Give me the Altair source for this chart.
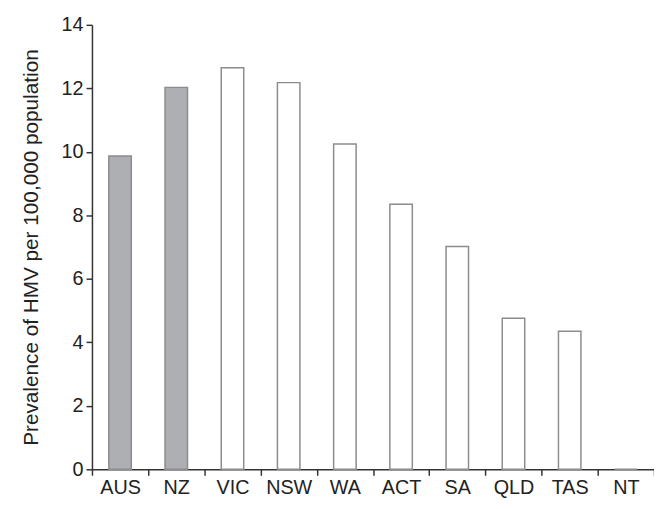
import altair as alt
import pandas as pd

regions = ["AUS", "NZ", "VIC", "NSW", "WA", "ACT", "SA", "QLD", "TAS", "NT"]
prevalence = [9.87, 12.03, 12.65, 12.18, 10.25, 8.35, 7.02, 4.76, 4.35, 0.0]
group = ["country", "country", "state", "state", "state", "state", "state", "state", "state", "state"]

df = pd.DataFrame({"region": regions, "value": prevalence, "group": group})

font = "Liberation Sans"

chart = alt.Chart(df).mark_bar(
    width=alt.RelativeBandSize(0.4),
    stroke="#8c8c90",
    strokeWidth=1.5,
).encode(
    x=alt.X(
        "region:N",
        sort=regions,
        scale=alt.Scale(paddingInner=0, paddingOuter=0),
        axis=alt.Axis(
            title=None,
            labelAngle=0,
            labelFontSize=20,
            labelFont=font,
            labelColor="#222222",
            labelPadding=2,
            tickBand="extent",
            tickSize=6,
            tickColor="#333333",
            tickWidth=1.5,
            domainColor="#333333",
            domainWidth=1.5,
            grid=False,
        ),
    ),
    y=alt.Y(
        "value:Q",
        scale=alt.Scale(domain=[0, 14], nice=False),
        axis=alt.Axis(
            title="Prevalence of HMV per 100,000 population",
            titleFontSize=21,
            titleFont=font,
            titleFontWeight="normal",
            titleColor="#222222",
            titlePadding=20,
            values=[0, 2, 4, 6, 8, 10, 12, 14],
            labelFontSize=20,
            labelFont=font,
            labelColor="#222222",
            labelPadding=3,
            tickSize=6,
            tickColor="#333333",
            tickWidth=1.5,
            domainColor="#333333",
            domainWidth=1.5,
            grid=False,
        ),
    ),
    fill=alt.Fill(
        "group:N",
        scale=alt.Scale(domain=["country", "state"], range=["#aeafb3", "#ffffff"]),
        legend=None,
    ),
).properties(
    width=569,
    height=450,
    padding={"left": 85, "top": 14, "right": 0, "bottom": 27},
    autosize="none",
    background="white",
).configure_view(stroke=None)

chart.save("out.html", embed_options={"renderer": "svg", "actions": False})
